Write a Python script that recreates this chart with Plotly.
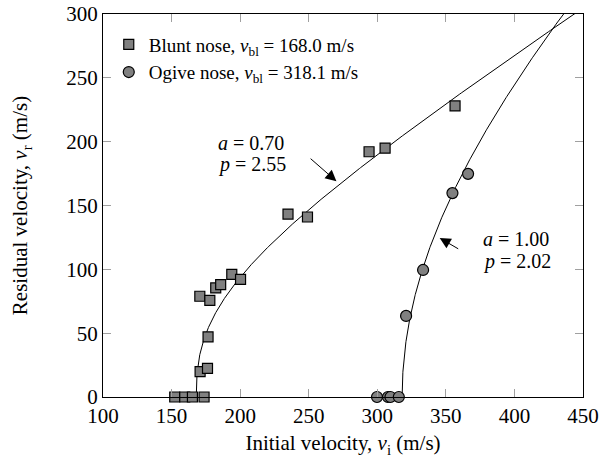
import numpy as np
import plotly.graph_objects as go

# Measured data
blunt_vi = [152.3, 159.6, 165.2, 173.7, 170.8, 176.2, 176.6, 170.6, 177.9, 182.2,
            185.8, 193.9, 200.3, 234.9, 249.1, 294.0, 305.7, 356.7]
blunt_vr = [0, 0, 0, 0, 19.9, 22.5, 47.1, 78.9, 75.7, 85.4,
            88.0, 96.1, 92.1, 143.3, 141.0, 192.1, 194.9, 228.0]

ogive_vi = [299.8, 307.8, 309.6, 315.7, 321.0, 333.4, 354.8, 366.2]
ogive_vr = [0, 0, 0, 0, 63.5, 99.5, 159.7, 174.8]

# Recht-Ipson model parameters shown in the chart
blunt_a, blunt_p, blunt_vbl = 0.70, 2.55, 168.0
ogive_a, ogive_p, ogive_vbl = 1.00, 2.02, 318.1

x_ticks = [100, 150, 200, 250, 300, 350, 400, 450]
y_ticks = [0, 50, 100, 150, 200, 250, 300]

FONT = "Liberation Serif"


def model(a, p, vbl, vmax=460):
    t = np.linspace(0, 1, 600)
    vi = vbl + (vmax - vbl) * t ** 3
    vr = a * np.clip(vi ** p - vbl ** p, 0, None) ** (1 / p)
    return vi, vr


fig = go.Figure()

for a, p, vbl in [(blunt_a, blunt_p, blunt_vbl), (ogive_a, ogive_p, ogive_vbl)]:
    vi, vr = model(a, p, vbl)
    fig.add_trace(go.Scatter(x=vi, y=vr, mode="lines", line=dict(color="black", width=1),
                             showlegend=False, hoverinfo="skip"))

fig.add_trace(go.Scatter(
    x=blunt_vi, y=blunt_vr, mode="markers", cliponaxis=False,
    name="Blunt nose, <i>v</i><sub>bl</sub> = 168.0 m/s",
    marker=dict(symbol="square", size=10, color="#808080", line=dict(color="black", width=1.2))))
fig.add_trace(go.Scatter(
    x=ogive_vi, y=ogive_vr, mode="markers", cliponaxis=False,
    name="Ogive nose, <i>v</i><sub>bl</sub> = 318.1 m/s",
    marker=dict(symbol="circle", size=11, color="#808080", line=dict(color="black", width=1.2))))

ann_font = dict(family=FONT, size=20, color="black")
annotations = [
    dict(x=182.7, y=199.3, text="<i>a</i> = 0.70", showarrow=False, xanchor="left", yanchor="middle", font=ann_font),
    dict(x=182.7, y=181.8, text="<i>p</i> = 2.55", showarrow=False, xanchor="left", yanchor="middle", font=ann_font),
    dict(x=375.9, y=123.8, text="<i>a</i> = 1.00", showarrow=False, xanchor="left", yanchor="middle", font=ann_font),
    dict(x=375.9, y=106.2, text="<i>p</i> = 2.02", showarrow=False, xanchor="left", yanchor="middle", font=ann_font),
    dict(x=270.2, y=169.0, ax=250.3, ay=187.7, axref="x", ayref="y", text="", showarrow=True,
         arrowhead=2, arrowsize=2.2, arrowwidth=1, arrowcolor="black"),
    dict(x=345.5, y=124.5, ax=360.1, ay=115.4, axref="x", ayref="y", text="", showarrow=True,
         arrowhead=2, arrowsize=2.2, arrowwidth=1, arrowcolor="black"),
]

axis_common = dict(showline=True, linecolor="black", linewidth=1, mirror="allticks",
                   ticks="inside", ticklen=8, tickcolor="#a0a0a0", tickwidth=1,
                   showgrid=False, zeroline=False, automargin=False,
                   tickfont=dict(family=FONT, size=21, color="black"))

fig.update_layout(
    width=603, height=465,
    margin=dict(l=103, r=20, t=14, b=68),
    paper_bgcolor="white", plot_bgcolor="white",
    font=dict(family=FONT, size=20, color="black"),
    xaxis=dict(range=[100, 450], tickvals=x_ticks, **axis_common,
               title=dict(text="Initial velocity, <i>v</i><sub>i</sub> (m/s)",
                          font=dict(family=FONT, size=21), standoff=8)),
    yaxis=dict(range=[0, 300], tickvals=y_ticks, **axis_common,
               title=dict(text="Residual velocity, <i>v</i><sub>r</sub> (m/s)",
                          font=dict(family=FONT, size=21), standoff=32)),
    legend=dict(x=0.012, y=0.97, xanchor="left", yanchor="top", bgcolor="rgba(0,0,0,0)",
                font=dict(family=FONT, size=19), itemwidth=30),
    annotations=annotations,
)

fig.write_html("out.html")
